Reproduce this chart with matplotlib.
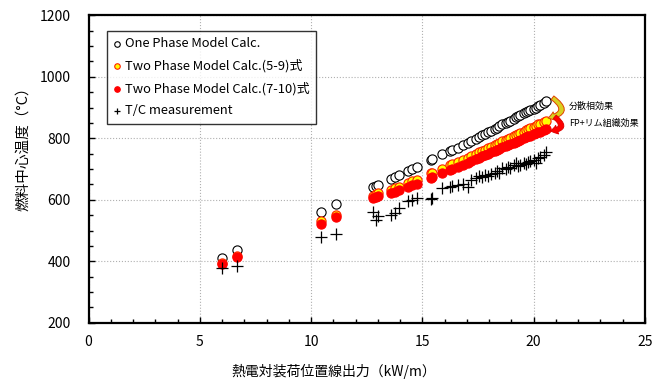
import matplotlib
matplotlib.use("Agg")
import matplotlib.pyplot as plt
from matplotlib.patches import FancyArrowPatch

plt.rcParams['font.family'] = ['Noto Sans CJK JP', 'DejaVu Sans']

# Linear power at thermocouple position (kW/m)
power = [6.0, 6.65, 10.45, 11.13, 12.8, 12.9, 13.0, 13.6, 13.75, 13.95, 14.35, 14.55, 14.75,
         15.4, 15.45, 15.9, 16.25, 16.35, 16.6, 16.85, 17.05, 17.2, 17.4, 17.55, 17.7, 17.8,
         17.95, 18.1, 18.25, 18.35, 18.45, 18.6, 18.75, 18.85, 18.95, 19.1, 19.2, 19.3, 19.4,
         19.55, 19.65, 19.75, 19.85, 20.0, 20.1, 20.2, 20.3, 20.45, 20.55]

one_phase = [412, 436, 560, 585, 642, 645, 648, 668, 674, 680, 694, 700, 707,
             730, 733, 748, 760, 763, 770, 778, 785, 791, 798, 804, 810, 814,
             820, 825, 831, 835, 839, 845, 850, 854, 858, 864, 868, 872, 875,
             881, 885, 889, 892, 897, 900, 905, 909, 914, 920]

two_phase_59 = [395, 418, 530, 552, 614, 618, 621, 632, 637, 643, 655, 660, 666,
                686, 688, 701, 712, 715, 723, 731, 737, 743, 749, 754, 760, 763,
                768, 773, 778, 781, 785, 790, 795, 798, 802, 807, 810, 814, 817,
                822, 826, 829, 832, 838, 841, 845, 848, 853, 857]

two_phase_710 = [390, 413, 522, 545, 606, 610, 613, 621, 626, 632, 643, 647, 653,
                 672, 674, 686, 696, 699, 707, 713, 720, 727, 733, 737, 743, 746,
                 750, 755, 760, 763, 766, 772, 776, 779, 782, 786, 789, 792, 795,
                 800, 803, 806, 809, 813, 816, 819, 822, 826, 829]

tc_measured = [378, 386, 480, 489, 561, 534, 548, 551, 558, 572, 597, 600, 605,
               602, 605, 637, 643, 645, 648, 650, 643, 665, 670, 678, 675, 680,
               678, 683, 688, 694, 686, 702, 700, 708, 705, 713, 719, 710, 713,
               720, 716, 722, 725, 729, 719, 735, 740, 745, 756]

labels = ['One Phase Model Calc.', 'Two Phase Model Calc.(5-9)式',
          'Two Phase Model Calc.(7-10)式', 'T/C measurement']

fig = plt.figure(figsize=(6.56, 3.83), dpi=100)
ax = fig.add_axes([0.135, 0.157, 0.848, 0.803])

ax.scatter(power, one_phase, s=44, facecolors='white', edgecolors='black',
           linewidths=0.8, label=labels[0], zorder=3)
ax.scatter(power, two_phase_59, s=44, facecolors='#ffff00', edgecolors='#ff2000',
           linewidths=0.8, label=labels[1], zorder=4)
ax.scatter(power, two_phase_710, s=44, facecolors='#ff0000', edgecolors='#ff0000',
           linewidths=0.8, label=labels[2], zorder=5)
ax.scatter(power, tc_measured, s=70, marker='+', color='black',
           linewidths=0.9, label=labels[3], zorder=6)

ax.set_xlim(0, 25)
ax.set_ylim(200, 1200)
ax.set_xticks([0, 5, 10, 15, 20, 25])
ax.set_yticks([200, 400, 600, 800, 1000, 1200])
ax.set_xticks(range(0, 26), minor=True)
ax.set_yticks(range(200, 1201, 50), minor=True)
ax.tick_params(which='both', direction='in', labelsize=10, width=1.0)
ax.tick_params(which='major', length=4)
ax.tick_params(which='minor', length=3)
ax.tick_params(axis='y', pad=13)
ax.tick_params(axis='x', pad=9)
ax.tick_params(top=False, right=False)

ax.grid(True, which='major', linestyle=':', color='#b0b0b0', linewidth=0.8, zorder=0)
ax.set_axisbelow(True)

for side in ['left', 'bottom', 'right', 'top']:
    ax.spines[side].set_linewidth(1.6)
    ax.spines[side].set_color('black')

ax.set_xlabel('熱電対装荷位置線出力（kW/m）', fontsize=10)
ax.xaxis.set_label_coords(0.44, -0.135)
ax.set_ylabel('燃料中心温度（°C）', fontsize=10.5)
ax.yaxis.set_label_coords(-0.105, 0.578)

leg = ax.legend(loc='upper left', bbox_to_anchor=(0.033, 0.95), borderaxespad=0,
                fontsize=9.3, frameon=True, fancybox=False, edgecolor='black',
                handlelength=0.6, handletextpad=0.3, labelspacing=0.7,
                borderpad=0.5, markerscale=0.6, scatterpoints=1)
leg.get_frame().set_linewidth(1.0)

# curved effect arrows and annotations
arr1 = FancyArrowPatch((20.85, 932), (20.65, 866), connectionstyle='arc3,rad=-1.1',
                       arrowstyle='simple,head_length=5,head_width=6.5,tail_width=3.2',
                       shrinkA=0, shrinkB=0,
                       facecolor='#d8d020', edgecolor='#e04000', linewidth=0.7, zorder=7)
arr2 = FancyArrowPatch((20.95, 870), (20.75, 824), connectionstyle='arc3,rad=-1.2',
                       arrowstyle='simple,head_length=5,head_width=6.5,tail_width=3.2',
                       shrinkA=0, shrinkB=0,
                       facecolor='#ff0000', edgecolor='#e00000', linewidth=0.7, zorder=7)
ax.add_patch(arr1)
ax.add_patch(arr2)
ax.text(21.6, 905, '分散相効果', fontsize=6.5, va='center', ha='left')
ax.text(21.6, 849, 'FP+リム組織効果', fontsize=6.5, va='center', ha='left')

fig.savefig('out.png', dpi=100)
